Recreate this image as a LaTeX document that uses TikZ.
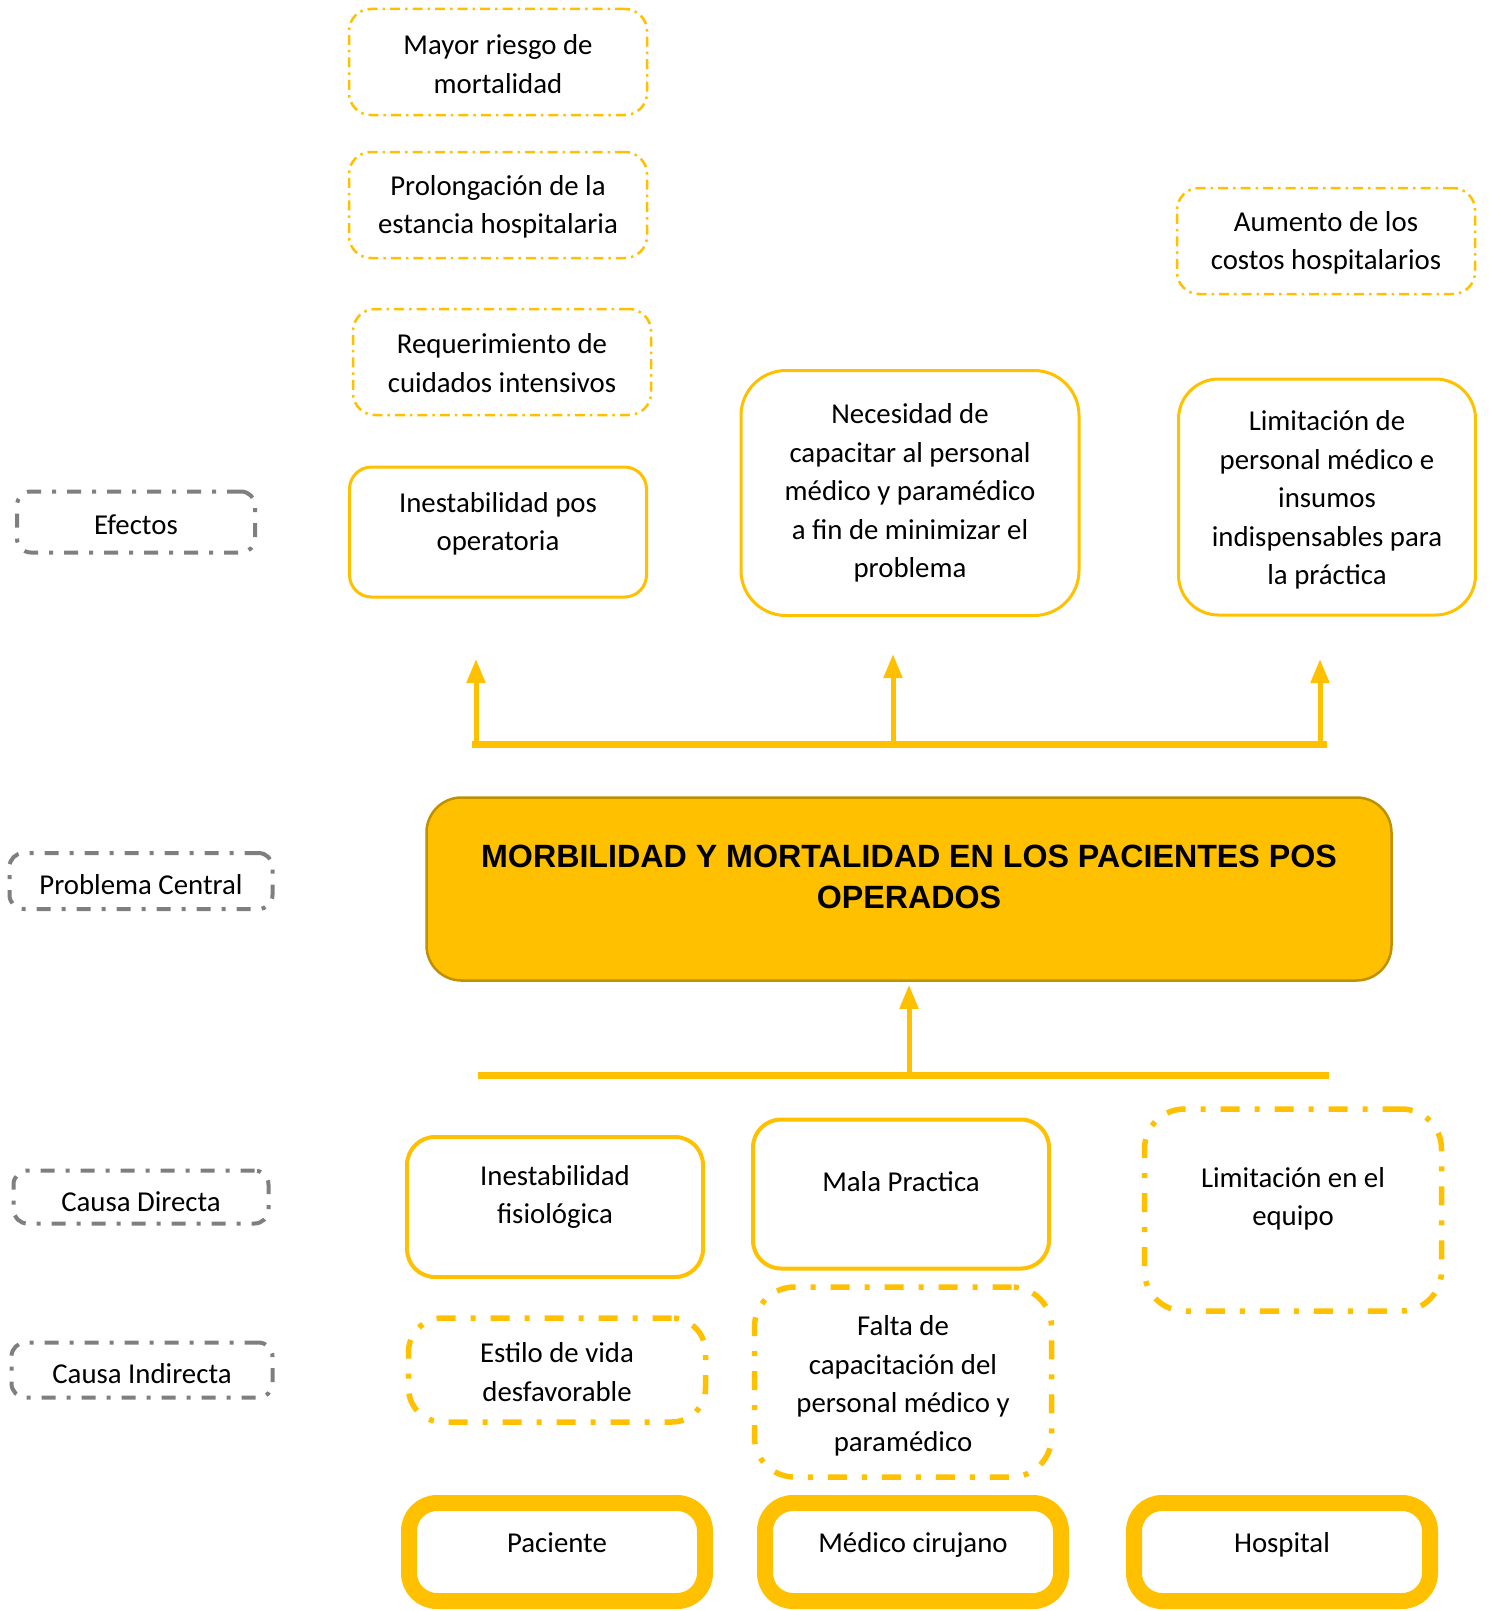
\documentclass[tikz,border=0pt]{standalone}
\usepackage{fontspec}
\setmainfont{Carlito}
\newfontfamily\titlefont{Liberation Sans}
\usetikzlibrary{arrows.meta}
\definecolor{gold}{HTML}{FFC000}
\definecolor{goldline}{HTML}{BF9000}
\definecolor{grayline}{HTML}{7F7F7F}
\begin{document}
\begin{tikzpicture}[x=1pt,y=-1pt,
 every node/.style={font=\fontsize{28.8}{38.5}\selectfont, align=center, inner sep=0pt, text=black},
 lbl/.style={draw=grayline, line width=4pt, dash pattern=on 14pt off 11pt on 4pt off 11pt, rounded corners=14pt},
 eff/.style={draw=gold, line width=2.5pt, dash pattern=on 10pt off 5pt on 2.5pt off 5pt, rounded corners=22pt, minimum width=298pt, minimum height=106pt},
 sol/.style={draw=gold, line width=3pt},
 solthick/.style={draw=gold, line width=4pt, rounded corners=28pt, minimum width=296pt},
 ddthick/.style={draw=gold, line width=5.5pt, dash pattern=on 19pt off 15pt on 5pt off 15pt, rounded corners=34pt, minimum width=297pt},
 basebox/.style={draw=gold, line width=16pt, rounded corners=28pt, minimum width=296pt, minimum height=98pt},
 conn/.style={draw=gold, line width=5pt},
 bar/.style={draw=gold, line width=7pt},
 tip/.style={-{Triangle[width=18pt,length=24pt]}}
]
\useasboundingbox (0,0) rectangle (1488,1611);

% left labels
\node[lbl, minimum width=238pt, minimum height=61pt] (efe) at (136,522) {};
\node (efet) at ([yshift=-3pt]efe.center) {Efectos};
\node[lbl, minimum width=263pt, minimum height=56pt] (pc) at (141,881) {};
\node (pct) at ([yshift=-4pt]pc.center) {Problema Central};
\node[lbl, minimum width=255pt, minimum height=53pt] (cd) at (141,1197) {};
\node (cdt) at ([yshift=-5pt]cd.center) {Causa Directa};
\node[lbl, minimum width=261pt, minimum height=55pt] (ci) at (142,1370) {};
\node (cit) at ([yshift=-4pt]ci.center) {Causa Indirecta};

% effects
\node[eff] (mr) at (498,62) {};
\node (mrt) at ([yshift=-2pt]mr.center) {Mayor riesgo de\\mortalidad};
\node[eff] (pe) at (498,205) {};
\node (pet) at ([yshift=-2pt]pe.center) {Prolongación de la\\estancia hospitalaria};
\node[eff] (rc) at (502,362) {};
\node (rct) at ([yshift=-1pt]rc.center) {Requerimiento de\\cuidados intensivos};
\node[eff] (ac) at (1326,241) {};
\node (act) at ([yshift=-2pt]ac.center) {Aumento de los\\costos hospitalarios};

\node[sol, rounded corners=22pt, minimum width=297pt, minimum height=130pt] (ip) at (498,532) {};
\node (ipt) at ([yshift=8pt]ip.center) {Inestabilidad pos\\operatoria};
\node[sol, rounded corners=45pt, minimum width=338pt, minimum height=245pt] (nc) at (910,493) {Necesidad de\\capacitar al personal\\médico y paramédico\\a fin de minimizar el\\problema};
\node[sol, rounded corners=40pt, minimum width=297pt, minimum height=236pt] (lp) at (1327,497) {};
\node (lpt) at ([yshift=-3pt]lp.center) {Limitación de\\personal médico e\\insumos\\indispensables para\\la práctica};

% central problem
\node[draw=goldline, fill=gold, line width=2.5pt, rounded corners=35pt, minimum width=965pt, minimum height=183pt] (cen) at (909,889) {};
\node[font=\titlefont\bfseries\fontsize{32.2}{41}\selectfont] (ttl) at ([yshift=12pt]cen.center) {MORBILIDAD Y MORTALIDAD EN LOS PACIENTES POS\\OPERADOS};

% top connectors
\coordinate (hl) at (472,744);
\coordinate (hr) at (1327,744);
\coordinate (tl) at (476,744);
\coordinate (tm) at (893,744);
\coordinate (tr) at (1320,744);
\coordinate (al) at (476,659);
\coordinate (am) at (893,654);
\coordinate (ar) at (1320,659);
\draw[bar] (hl) -- (hr);
\draw[conn,tip] (tl) -- (al);
\draw[conn,tip] (tm) -- (am);
\draw[conn,tip] (tr) -- (ar);

% bottom connector
\coordinate (bl) at (478,1075);
\coordinate (br) at (1329,1075);
\coordinate (bm) at (909,1075);
\draw[bar] (bl) -- (br);
\draw[conn,tip] (bm) -- ([yshift=-3pt]cen.south);

% causes
\node[solthick, minimum height=140pt] (fis) at (555,1207) {};
\node (fist) at ([yshift=10pt]fis.center) {Inestabilidad\\fisiológica};
\node[solthick, minimum height=149pt] (mp) at (901,1194) {};
\node (mpt) at ([yshift=12pt]mp.center) {Mala Practica};
\node[ddthick, minimum height=202pt, rounded corners=40pt] (le) at (1293,1210) {};
\node (let) at ([yshift=11pt]le.center) {Limitación en el\\equipo};
\node[ddthick, minimum height=104pt] (ev) at (557,1370) {};
\node (evt) at ([yshift=-2pt]ev.center) {Estilo de vida\\desfavorable};
\node[ddthick, minimum height=190pt, rounded corners=40pt] (fc) at (903,1382) {};
\node (fct) at ([yshift=-4pt]fc.center) {Falta de\\capacitación del\\personal médico y\\paramédico};

% actors
\node[basebox] (pac) at (557,1552) {};
\node (pact) at ([yshift=9pt]pac.center) {Paciente};
\node[basebox] (med) at (913,1552) {};
\node (medt) at ([yshift=7pt]med.center) {Médico cirujano};
\node[basebox] (hos) at (1282,1552) {};
\node (host) at ([yshift=7pt]hos.center) {Hospital};
\end{tikzpicture}
\end{document}
